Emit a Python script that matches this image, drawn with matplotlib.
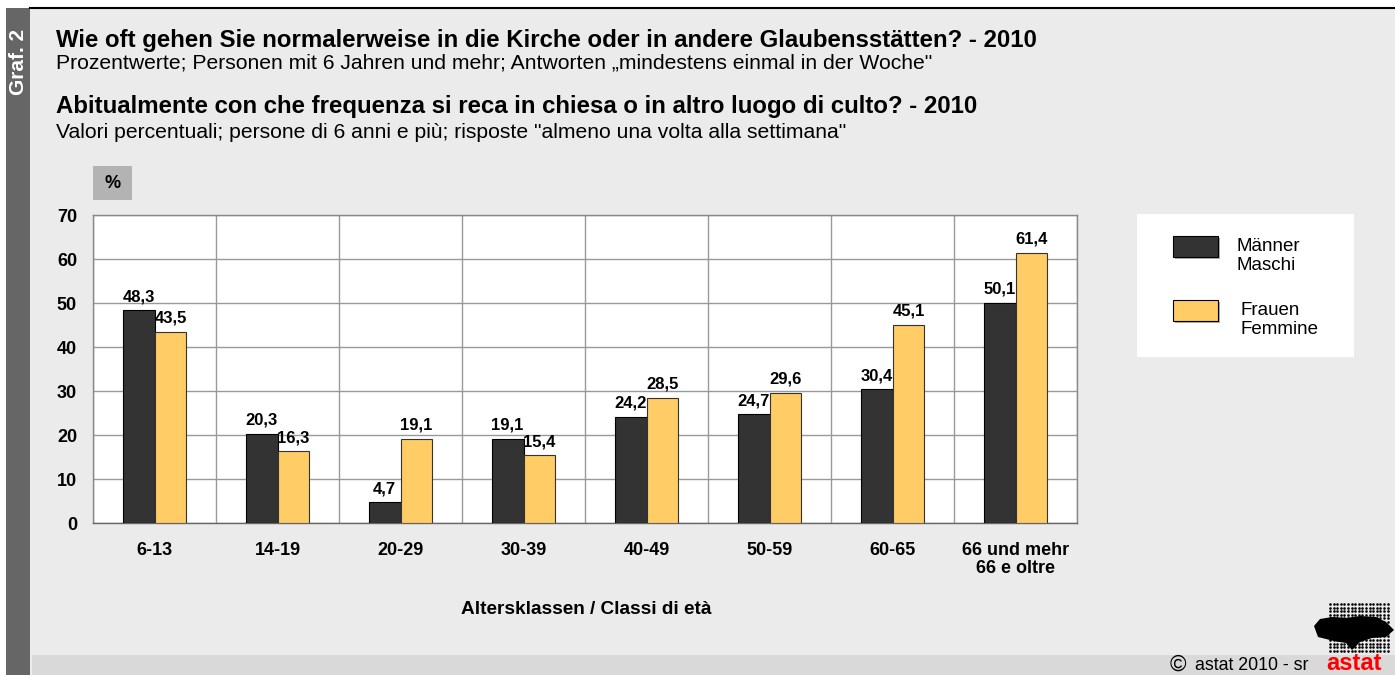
import matplotlib.pyplot as plt
import numpy as np
from matplotlib.patches import Rectangle, Polygon

plt.rcParams["font.family"] = ["Liberation Sans", "DejaVu Sans"]

age_groups = ["6-13", "14-19", "20-29", "30-39", "40-49", "50-59", "60-65",
              "66 und mehr\n66 e oltre"]
maenner = [48.3, 20.3, 4.7, 19.1, 24.2, 24.7, 30.4, 50.1]
frauen = [43.5, 16.3, 19.1, 15.4, 28.5, 29.6, 45.1, 61.4]
y_ticks = [0, 10, 20, 30, 40, 50, 60, 70]

DARK = "#333333"
YELLOW = "#ffcc66"
BG = "#ebebeb"

W, H = 1395, 675
fig = plt.figure(figsize=(W / 100, H / 100), dpi=100)
fig.patch.set_facecolor("white")

# overlay in pixel coordinates for the page decoration
deco = fig.add_axes([0, 0, 1, 1])
deco.set_xlim(0, W)
deco.set_ylim(H, 0)
deco.axis("off")
deco.add_patch(Rectangle((30, 8), W - 30, H - 8, color=BG, lw=0))
deco.add_patch(Rectangle((32, 655), W - 32, 20, color="#d9d9d9", lw=0))
deco.add_patch(Rectangle((6, 8), 24, H - 8, color="#666666", lw=0))
deco.plot([30, W], [8, 8], color="black", lw=1.5)
deco.text(19, 62, "Graf. 2", rotation=90, color="white", fontsize=15,
          fontweight="bold", ha="center", va="center")

deco.text(56, 40, "Wie oft gehen Sie normalerweise in die Kirche oder in andere Glaubensstätten? - 2010",
          fontsize=17.3, fontweight="bold", va="center")
deco.text(56, 63, "Prozentwerte; Personen mit 6 Jahren und mehr; Antworten \u201emindestens einmal in der Woche\"",
          fontsize=15.2, va="center")
deco.text(56, 107, "Abitualmente con che frequenza si reca in chiesa o in altro luogo di culto? - 2010",
          fontsize=17.3, fontweight="bold", va="center")
deco.text(56, 132, "Valori percentuali; persone di 6 anni e più; risposte \"almeno una volta alla settimana\"",
          fontsize=15.2, va="center")

deco.add_patch(Rectangle((93, 166), 39, 34, color="#b3b3b3", lw=0))
deco.text(112.5, 184, "%", fontsize=13, fontweight="bold", ha="center", va="center")

# legend box
deco.add_patch(Rectangle((1137, 214), 217, 143, color="white", lw=0))
for y0, col, lbl, tx in [(236, DARK, "Männer\nMaschi", 1237),
                         (300, YELLOW, "Frauen\nFemmine", 1241)]:
    deco.add_patch(Rectangle((1175, y0 + 2), 45, 21, color="#b0b0b0", lw=0))
    deco.add_patch(Rectangle((1173, y0), 45, 21, facecolor=col, edgecolor="black", lw=0.8))
    deco.text(tx, y0 + 20, lbl, fontsize=13.5, va="center", linespacing=1.1)

deco.text(586, 610, "Altersklassen / Classi di età", fontsize=13.7,
          fontweight="bold", ha="center", va="center")

# footer
deco.text(1170, 665, "©", fontsize=16, va="center")
deco.text(1195, 665, "astat 2010 - sr", fontsize=12.8, va="center")
deco.text(1354, 664, "astat", fontsize=17, fontweight="bold", color="#ff0000",
          ha="center", va="center")
gx, gy = np.meshgrid(np.arange(1330, 1389, 3.6), np.arange(604, 654, 3.6))
deco.scatter(gx.ravel(), gy.ravel(), s=3.5, color="black", lw=0)
blob = [(1314, 626), (1320, 619), (1332, 617), (1346, 618), (1360, 616),
        (1376, 617), (1386, 622), (1394, 630), (1386, 637), (1372, 638),
        (1360, 642), (1352, 650), (1346, 643), (1334, 641), (1318, 637)]
deco.add_patch(Polygon(blob, closed=True, color="black", lw=0))

# main chart
ax = fig.add_axes([93 / W, 1 - 523 / H, (1077 - 93) / W, (523 - 215) / H])
ax.set_facecolor("white")
x = np.arange(len(age_groups))
bw = 0.26
b1 = ax.bar(x - bw / 2, maenner, bw, color=DARK, edgecolor="black", lw=0.8, zorder=3)
b2 = ax.bar(x + bw / 2, frauen, bw, color=YELLOW, edgecolor="#333333", lw=0.8, zorder=3)
for bars, vals in [(b1, maenner), (b2, frauen)]:
    for rect, v in zip(bars, vals):
        ax.text(rect.get_x() + rect.get_width() / 2, v + 1.4, f"{v:.1f}".replace(".", ","),
                ha="center", va="bottom", fontsize=12, fontweight="bold", zorder=4)

ax.set_xlim(-0.5, len(age_groups) - 0.5)
ax.set_ylim(0, 70)
ax.set_yticks(y_ticks)
ax.set_yticklabels([str(t) for t in y_ticks], fontsize=13, fontweight="bold")
ax.set_xticks(x)
ax.set_xticklabels(age_groups, fontsize=13, fontweight="bold", linespacing=1.05)
ax.tick_params(axis="x", length=0, pad=14)
ax.tick_params(axis="y", length=0, pad=11.5)
ax.set_xticks(np.arange(-0.5, len(age_groups)), minor=True)
ax.tick_params(which="minor", length=0)
ax.grid(True, which="minor", axis="x", color="#999999", lw=1, zorder=1)
ax.grid(True, which="major", axis="y", color="#999999", lw=1, zorder=1)
for s in ax.spines.values():
    s.set_color("#888888")
    s.set_linewidth(1)
ax.spines["bottom"].set_color("#666666")

fig.savefig("out.png", dpi=100, facecolor=fig.get_facecolor())
